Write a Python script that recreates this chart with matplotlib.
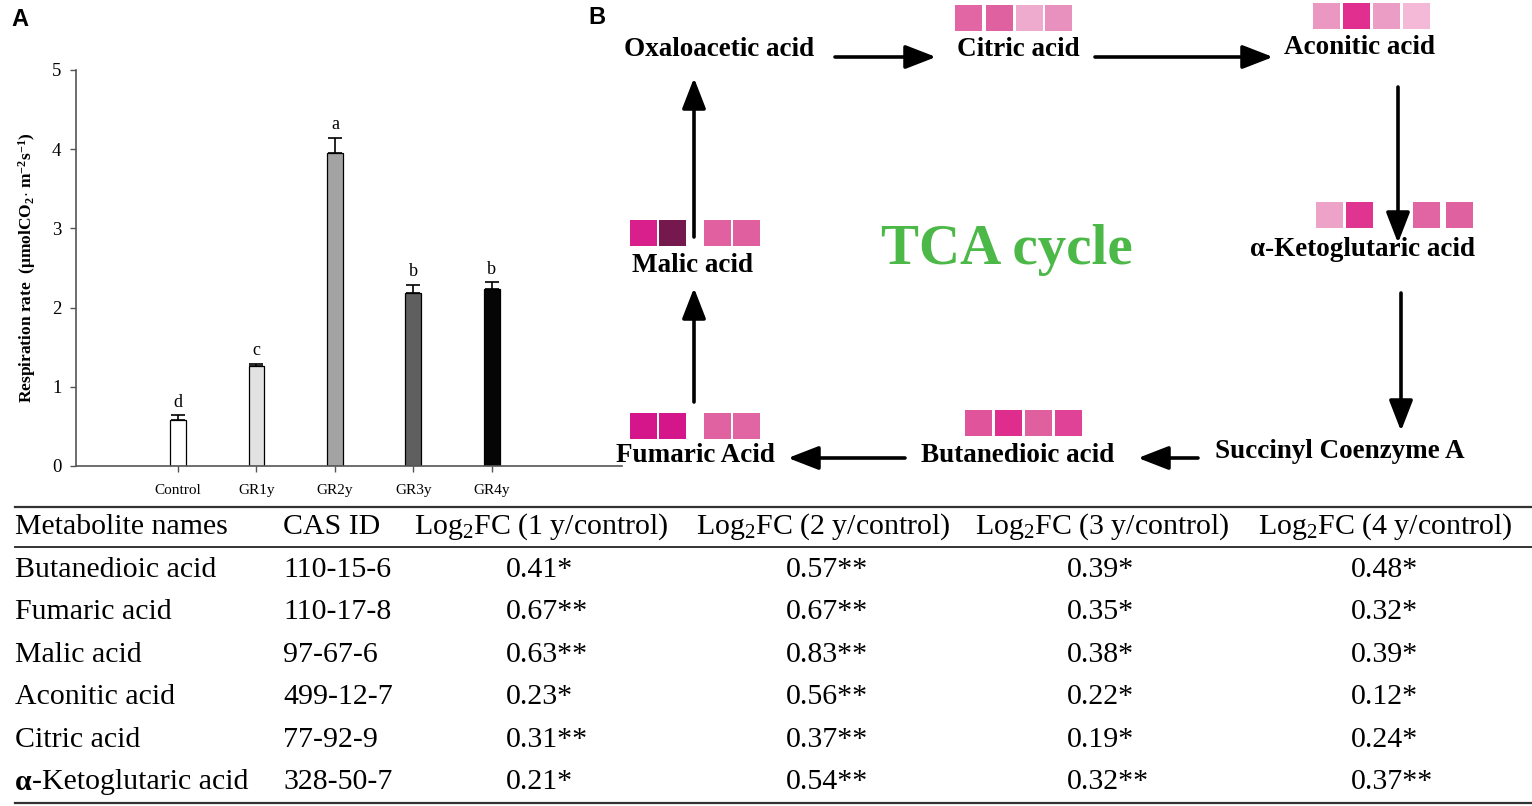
import numpy as np
import matplotlib
matplotlib.use("Agg")
import matplotlib.pyplot as plt
from matplotlib.colors import LinearSegmentedColormap, Normalize
from matplotlib.patches import Rectangle

plt.rcParams['font.family'] = ['Liberation Serif', 'DejaVu Serif']
plt.rcParams['mathtext.fontset'] = 'custom'
plt.rcParams['mathtext.rm'] = 'Liberation Serif'
plt.rcParams['mathtext.it'] = 'Liberation Serif:italic'
plt.rcParams['mathtext.bf'] = 'Liberation Serif:bold'

# ============ panel A data ============
groups = ["Control", "GR1y", "GR2y", "GR3y", "GR4y"]
resp_rate = [0.58, 1.26, 3.95, 2.19, 2.24]
resp_err = [0.06, 0.03, 0.19, 0.10, 0.08]
sig_letters = ["d", "c", "a", "b", "b"]
bar_colors = ["white", "#e2e2e2", "#a3a3a3", "#5f5f5f", "#050505"]

# ============ panel B / table data ============
metabolites = ["Butanedioic acid", "Fumaric acid", "Malic acid",
               "Aconitic acid", "Citric acid", "α-Ketoglutaric acid"]
cas_ids = ["110-15-6", "110-17-8", "97-67-6", "499-12-7", "77-92-9", "328-50-7"]
fc_1y = [0.41, 0.67, 0.63, 0.23, 0.31, 0.21]
fc_2y = [0.57, 0.67, 0.83, 0.56, 0.37, 0.54]
fc_3y = [0.39, 0.35, 0.38, 0.22, 0.19, 0.32]
fc_4y = [0.48, 0.32, 0.39, 0.12, 0.24, 0.37]
stars_1y = ["*", "**", "**", "*", "**", "*"]
stars_2y = ["**", "**", "**", "**", "**", "**"]
stars_3y = ["*", "*", "*", "*", "*", "**"]
stars_4y = ["*", "*", "*", "*", "*", "**"]
fc_headers = ["Log$_2$FC (1 y/control)", "Log$_2$FC (2 y/control)",
              "Log$_2$FC (3 y/control)", "Log$_2$FC (4 y/control)"]

W, H = 1532, 806
fig = plt.figure(figsize=(W / 100, H / 100), dpi=100)

# overlay axes in pixel units for the pathway diagram and the table
dia = fig.add_axes([0, 0, 1, 1])
dia.set_xlim(0, W)
dia.set_ylim(H, 0)
dia.axis("off")

dia.text(20, 19, "A", family="Liberation Sans", fontweight="bold", fontsize=17,
         ha="center", va="center")
dia.text(597, 17, "B", family="Liberation Sans", fontweight="bold", fontsize=17,
         ha="center", va="center")

# ============ pathway nodes ============
node_fs = 19.5
nodes = [("Oxaloacetic acid", 719, 50), ("Citric acid", 1018, 50),
         ("Aconitic acid", 1360, 48), ("α-Ketoglutaric acid", 1362, 250),
         ("Succinyl Coenzyme A", 1340, 452), ("Butanedioic acid", 1018, 455),
         ("Fumaric Acid", 695, 455), ("Malic acid", 692, 265)]
for name, x, y in nodes:
    dia.text(x, y, name, fontsize=node_fs, fontweight="bold", ha="center", va="center")

dia.text(1007, 250, "TCA cycle", fontsize=41, fontweight="bold", color="#4cb848",
         ha="center", va="center")

arrows = [((835, 57), (936, 57)), ((1095, 57), (1273, 57)),
          ((1398, 87), (1398, 243)), ((1401, 293), (1401, 431)),
          ((1198, 458), (1138, 458)), ((905, 458), (788, 458)),
          ((694, 402), (694, 288)), ((694, 237), (694, 78))]
for start, end in arrows:
    dia.annotate("", xy=end, xytext=start,
                 arrowprops=dict(arrowstyle="-|>,head_length=0.85,head_width=0.33",
                                 lw=2.6, color="black", shrinkA=0, shrinkB=0,
                                 mutation_scale=22))

# ============ heat squares (fold change colours) ============
cmap = LinearSegmentedColormap.from_list("fc", [
    (0.00, "#f4bcd8"), (0.13, "#efa9cc"), (0.19, "#e88fbd"), (0.27, "#e266a4"),
    (0.39, "#e05f9f"), (0.43, "#e04a98"), (0.53, "#e03f98"), (0.61, "#e0308e"),
    (0.76, "#d4168a"), (1.00, "#6a1848")])
norm = Normalize(vmin=0.10, vmax=0.85)

sq_w, sq_h = 27, 26
sq_layout = {  # metabolite -> (x lefts, y top)
    "Butanedioic acid": ([965, 995, 1025, 1055], 410),
    "Fumaric acid": ([630, 659, 704, 733], 413),
    "Malic acid": ([630, 659, 704, 733], 220),
    "Aconitic acid": ([1313, 1343, 1373, 1403], 3),
    "Citric acid": ([955, 986, 1016, 1045], 5),
    "α-Ketoglutaric acid": ([1316, 1346, 1413, 1446], 202),
}
for i, name in enumerate(metabolites):
    xs, ytop = sq_layout[name]
    vals = [fc_1y[i], fc_2y[i], fc_3y[i], fc_4y[i]]
    for x, v in zip(xs, vals):
        dia.add_patch(Rectangle((x, ytop), sq_w, sq_h, facecolor=cmap(norm(v)),
                                edgecolor="none"))

# ============ table ============
tab_fs = 21.5
line_c = "#333333"
dia.plot([15, W], [507, 507], color=line_c, lw=1.6)
dia.plot([15, W], [547, 547], color=line_c, lw=1.4)
dia.plot([15, W], [803, 803], color=line_c, lw=1.6)

head_y = 527
dia.text(15, head_y, "Metabolite names", fontsize=tab_fs, ha="left", va="center")
dia.text(283, head_y, "CAS ID", fontsize=tab_fs, ha="left", va="center")
head_x = [541, 823, 1102, 1385]
for hx, htxt in zip(head_x, fc_headers):
    dia.text(hx, head_y, htxt, fontsize=tab_fs, ha="center", va="center")

row_y = [570, 612, 655, 697, 740, 782]
val_x = [506, 786, 1067, 1351]
cols = [(fc_1y, stars_1y), (fc_2y, stars_2y), (fc_3y, stars_3y), (fc_4y, stars_4y)]
for i, name in enumerate(metabolites):
    y = row_y[i]
    if name.startswith("α"):
        a = dia.text(15, y, "α", fontsize=tab_fs, fontweight="bold", ha="left", va="center")
        dia.annotate(name[1:], xy=(1, 0.5), xycoords=a, fontsize=tab_fs,
                     ha="left", va="center")
    else:
        dia.text(15, y, name, fontsize=tab_fs, ha="left", va="center")
    dia.text(283, y, cas_ids[i], fontsize=tab_fs, ha="left", va="center")
    for vx, (vals, stars) in zip(val_x, cols):
        dia.text(vx, y, f"{vals[i]:.2f}{stars[i]}", fontsize=tab_fs, ha="left", va="center")

# ============ panel A bar chart ============
ax = fig.add_axes([76 / W, 1 - 466 / H, 546 / W, 396 / H])
ax.patch.set_visible(False)
x = np.arange(len(groups))
ax.bar(x, resp_rate, width=0.2, color=bar_colors, edgecolor="black", linewidth=0.9, zorder=2)
ax.errorbar(x, resp_rate, yerr=[np.zeros(len(x)), resp_err], fmt="none",
            ecolor="black", elinewidth=1.2, capsize=5, capthick=1.2, zorder=3)
for xi, v, e, lab in zip(x, resp_rate, resp_err, sig_letters):
    ax.text(xi, v + e + 0.06, lab, fontsize=13, ha="center", va="bottom")

ax.set_xlim(-1.30, 5.66)
ax.set_ylim(0, 5)
ax.set_yticks([0, 1, 2, 3, 4, 5])
ax.set_xticks(x)
ax.set_xticklabels(groups, fontsize=11)
ax.tick_params(axis="y", labelsize=13.5, length=4.5, width=1, color="#555555", pad=6)
ax.tick_params(axis="x", length=4, width=1, color="#555555", pad=9)
for s in ["top", "right"]:
    ax.spines[s].set_visible(False)
for s in ["left", "bottom"]:
    ax.spines[s].set_color("#555555")
    ax.spines[s].set_linewidth(1.2)
ax.set_ylabel(r"Respiration rate  ($\mathbf{\mu}$molCO$_\mathbf{2}$$\cdot$ m$^\mathbf{-2}$s$^\mathbf{-1}$)",
              fontsize=12.5, fontweight="bold", labelpad=10)

fig.savefig("out.png", dpi=100)
